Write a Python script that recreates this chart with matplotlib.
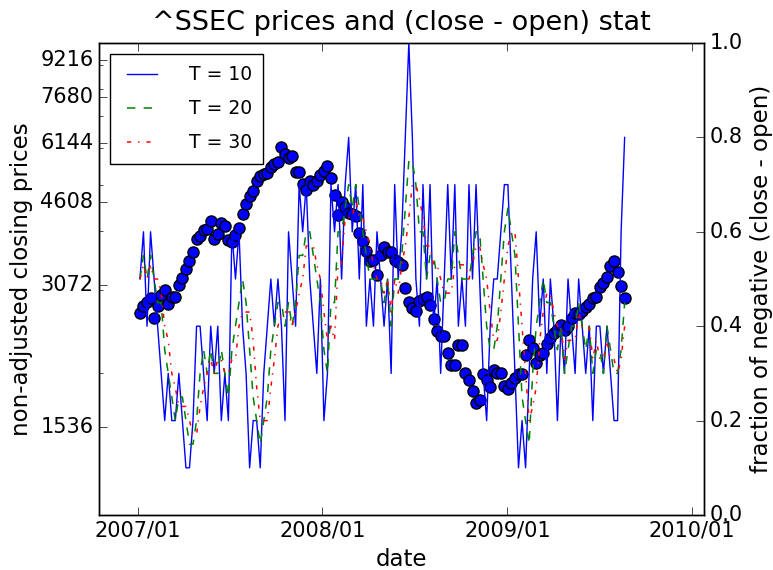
import pandas as pd
import matplotlib
matplotlib.use('Agg')
import matplotlib.pyplot as plt
import matplotlib.dates as mdates
from matplotlib.ticker import FixedLocator, FixedFormatter, NullFormatter, LogLocator

plt.style.use('classic')

# weekly (friday) samples, 2007-01-05 .. 2009-08-21
close_2007 = [2680, 2770, 2830, 2880, 2620, 2770, 2930, 2990, 2800, 2900, 2900, 3070, 3180,
              3320, 3450, 3600, 3840, 3900, 4020, 4030, 4200, 3840, 3930, 4150, 4090, 3820,
              3780, 3910, 4060, 4350, 4560, 4750, 4860, 5110, 5220, 5290, 5310, 5450, 5550,
              5600, 6030, 5820, 5720, 5770, 5320, 5320, 5030, 4870, 5100, 5010, 5100, 5260]
close_2008 = [5360, 5480, 5180, 4760, 4320, 4600, 4490, 4370, 4350, 4300, 3960, 3800, 3620,
              3450, 3470, 3220, 3560, 3690, 3610, 3600, 3470, 3430, 3380, 3020, 2830, 2750,
              2700, 2840, 2870, 2900, 2780, 2600, 2450, 2400, 2400, 2200, 2080, 2080, 2290,
              2290, 2000, 1930, 1830, 1730, 1750, 1990, 1930, 1870, 2030, 2000, 2000, 1880]
close_2009 = [1850, 1900, 1950, 1990, 1990, 2180, 2350, 2260, 2100, 2180, 2200, 2300, 2370,
              2430, 2470, 2530, 2470, 2520, 2620, 2680, 2660, 2700, 2760, 2800, 2880, 2900,
              3040, 3100, 3200, 3370, 3460, 3280, 3060, 2880]

# fraction of negative (close - open) days over the last T days
neg10_2007 = [0.5, 0.6, 0.4, 0.6, 0.5, 0.4, 0.3, 0.2, 0.3, 0.2, 0.2, 0.3, 0.2, 0.1, 0.1, 0.2,
              0.4, 0.4, 0.3, 0.2, 0.4, 0.3, 0.4, 0.2, 0.3, 0.2, 0.6, 0.5, 0.6, 0.4, 0.3, 0.1,
              0.2, 0.2, 0.1, 0.3, 0.4, 0.5, 0.4, 0.5, 0.4, 0.2, 0.6, 0.5, 0.4, 0.7, 0.6, 0.7,
              0.5, 0.4, 0.3, 0.5]
neg10_2008 = [0.2, 0.3, 0.7, 0.6, 0.7, 0.5, 0.7, 0.8, 0.6, 0.7, 0.5, 0.7, 0.4, 0.5, 0.4, 0.6,
              0.5, 0.4, 0.5, 0.3, 0.7, 0.5, 0.6, 0.8, 1.0, 0.8, 0.5, 0.4, 0.7, 0.5, 0.7, 0.4,
              0.5, 0.3, 0.5, 0.7, 0.5, 0.7, 0.4, 0.5, 0.4, 0.7, 0.5, 0.7, 0.5, 0.3, 0.2, 0.4,
              0.5, 0.5, 0.6, 0.7]
neg10_2009 = [0.7, 0.5, 0.3, 0.1, 0.2, 0.1, 0.3, 0.5, 0.6, 0.4, 0.5, 0.3, 0.5, 0.4, 0.2, 0.4,
              0.3, 0.5, 0.4, 0.3, 0.5, 0.4, 0.3, 0.4, 0.2, 0.4, 0.4, 0.3, 0.4, 0.3, 0.2, 0.2,
              0.6, 0.8]

neg20_2007 = [0.5, 0.55, 0.5, 0.55, 0.5, 0.45, 0.45, 0.35, 0.3, 0.25, 0.2, 0.25, 0.25, 0.2,
              0.15, 0.15, 0.2, 0.3, 0.35, 0.3, 0.35, 0.3, 0.3, 0.35, 0.3, 0.25, 0.35, 0.4,
              0.45, 0.5, 0.45, 0.35, 0.25, 0.2, 0.15, 0.2, 0.25, 0.35, 0.4, 0.45, 0.45, 0.4,
              0.45, 0.4, 0.45, 0.55, 0.55, 0.6, 0.6, 0.55, 0.5, 0.45]
neg20_2008 = [0.35, 0.3, 0.45, 0.45, 0.6, 0.6, 0.65, 0.7, 0.65, 0.7, 0.65, 0.6, 0.55, 0.5,
              0.5, 0.5, 0.5, 0.45, 0.5, 0.4, 0.5, 0.5, 0.55, 0.65, 0.75, 0.75, 0.7, 0.6, 0.6,
              0.5, 0.55, 0.55, 0.5, 0.45, 0.45, 0.5, 0.5, 0.6, 0.55, 0.5, 0.5, 0.5, 0.55, 0.6,
              0.6, 0.5, 0.4, 0.35, 0.35, 0.4, 0.5, 0.6]
neg20_2009 = [0.65, 0.6, 0.55, 0.4, 0.25, 0.2, 0.15, 0.3, 0.4, 0.45, 0.5, 0.45, 0.45, 0.4,
              0.35, 0.4, 0.3, 0.35, 0.4, 0.4, 0.45, 0.4, 0.35, 0.4, 0.3, 0.35, 0.35, 0.3, 0.4,
              0.35, 0.3, 0.3, 0.35, 0.45]

neg30_2007 = [0.5, 0.53, 0.5, 0.53, 0.5, 0.5, 0.47, 0.4, 0.37, 0.3, 0.27, 0.23, 0.23, 0.23,
              0.2, 0.17, 0.17, 0.23, 0.27, 0.3, 0.33, 0.3, 0.33, 0.33, 0.3, 0.3, 0.33, 0.33,
              0.4, 0.43, 0.43, 0.43, 0.37, 0.27, 0.2, 0.2, 0.2, 0.27, 0.33, 0.4, 0.43, 0.43,
              0.43, 0.4, 0.43, 0.47, 0.5, 0.57, 0.57, 0.57, 0.53, 0.5]
neg30_2008 = [0.43, 0.37, 0.4, 0.37, 0.53, 0.53, 0.63, 0.63, 0.63, 0.67, 0.63, 0.63, 0.6,
              0.57, 0.53, 0.5, 0.5, 0.47, 0.5, 0.43, 0.5, 0.47, 0.53, 0.57, 0.63, 0.7, 0.7,
              0.67, 0.63, 0.57, 0.57, 0.53, 0.53, 0.5, 0.47, 0.47, 0.47, 0.53, 0.53, 0.53,
              0.53, 0.5, 0.53, 0.57, 0.57, 0.53, 0.5, 0.43, 0.37, 0.37, 0.43, 0.5]
neg30_2009 = [0.57, 0.6, 0.6, 0.5, 0.4, 0.3, 0.2, 0.23, 0.27, 0.37, 0.43, 0.47, 0.47, 0.43,
              0.4, 0.4, 0.33, 0.37, 0.37, 0.37, 0.43, 0.4, 0.4, 0.4, 0.33, 0.37, 0.33, 0.33,
              0.37, 0.33, 0.33, 0.3, 0.33, 0.4]

price_ticks = [1536, 3072, 4608, 6144, 7680, 9216]
frac_ticks = [0.0, 0.2, 0.4, 0.6, 0.8, 1.0]

dates = pd.date_range('2007-01-05', '2009-08-21', freq='W-FRI')
close = close_2007 + close_2008 + close_2009
neg10 = neg10_2007 + neg10_2008 + neg10_2009
neg20 = neg20_2007 + neg20_2008 + neg20_2009
neg30 = neg30_2007 + neg30_2008 + neg30_2009

W, H = 773, 570
fig = plt.figure(figsize=(W / 100.0, H / 100.0), dpi=100)
ax = fig.add_axes([99.0 / W, 1 - 515.0 / H, 605.0 / W, 472.0 / H])

ax.plot(dates, close, 'o', markerfacecolor='#0000ff', markeredgecolor='k',
        markersize=8, markeredgewidth=1.0)
ax.set_yscale('log')
ax.set_ylim(1000, 10000)
ax.yaxis.set_major_locator(FixedLocator(price_ticks))
ax.yaxis.set_major_formatter(FixedFormatter([str(t) for t in price_ticks]))
ax.yaxis.set_minor_locator(LogLocator(base=10, subs=range(2, 10)))
ax.yaxis.set_minor_formatter(NullFormatter())
ax.set_xlim(pd.Timestamp('2006-10-16'), pd.Timestamp('2010-01-25'))
ax.xaxis.set_major_locator(mdates.YearLocator())
ax.xaxis.set_major_formatter(mdates.DateFormatter('%Y/%m'))
ax.tick_params(axis='both', which='major', labelsize=15, length=6)
ax.tick_params(axis='y', which='minor', length=3)
ax.set_xlabel('date', fontsize=16.5)
ax.set_ylabel('non-adjusted closing prices', fontsize=16.5)
ax.set_title('^SSEC prices and (close - open) stat', fontsize=19.5, y=1.012)

ax2 = ax.twinx()
ax2.plot(dates, neg10, '-', color='#0000ff', lw=1.0, label='T = 10')
ax2.plot(dates, neg20, '--', color='#008000', lw=1.1, label='T = 20')
ax2.plot(dates, neg30, '-.', color='#ff0000', lw=1.1, label='T = 30')
ax2.set_ylim(0, 1)
ax2.set_yticks(frac_ticks)
ax2.set_yticklabels(['%.1f' % t for t in frac_ticks])
ax2.tick_params(axis='y', labelsize=15, length=6)
ax2.set_ylabel('fraction of negative (close - open)', fontsize=16.5)
ax2.set_xlim(pd.Timestamp('2006-10-16'), pd.Timestamp('2010-01-25'))

leg = ax2.legend(loc='upper left', fontsize=13.5, handlelength=2.2, handletextpad=1.4,
                 labelspacing=0.8, borderpad=0.6, borderaxespad=0.6, numpoints=2)
leg.get_frame().set_linewidth(1.0)

fig.savefig('out.png', dpi=100, facecolor='white')
